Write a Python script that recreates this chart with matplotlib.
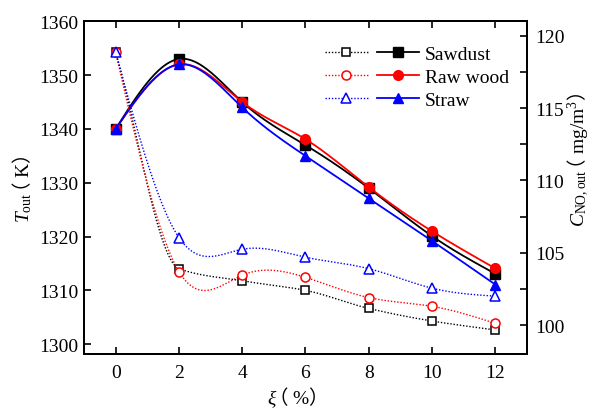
import numpy as np
import matplotlib
matplotlib.use("Agg")
import matplotlib.pyplot as plt
from matplotlib.legend_handler import HandlerTuple
from matplotlib.ticker import MultipleLocator

plt.rcParams["font.family"] = ["Liberation Serif", "Noto Sans CJK SC"]
# serif maths; \mathsf is borrowed for the full-width CJK brackets
plt.rcParams["mathtext.fontset"] = "custom"
plt.rcParams["mathtext.rm"] = "Liberation Serif"
plt.rcParams["mathtext.it"] = "Liberation Serif:italic"
plt.rcParams["mathtext.bf"] = "Liberation Serif:bold"
plt.rcParams["mathtext.sf"] = "Noto Sans CJK SC"

# ---------------------------------------------------------------------------
# data
# ---------------------------------------------------------------------------
xi = [0, 2, 4, 6, 8, 10, 12]
names = ["Sawdust", "Raw wood", "Straw"]

# outlet temperature (K), left axis, solid lines
t_sawdust = [1340, 1353, 1345, 1337, 1329, 1320.1, 1313.1]
t_rawwood = [1340, 1352, 1345, 1338.1, 1329.2, 1321.0, 1314.1]
t_straw = [1340, 1352, 1344, 1335.0, 1327.1, 1319.2, 1311.1]

# outlet NO concentration (mg/m3), right axis, dotted lines
c_sawdust = [118.86, 103.9, 103.06, 102.4, 101.15, 100.28, 99.66]
c_rawwood = [118.86, 103.7, 103.45, 103.3, 101.9, 101.3, 100.12]
c_straw = [118.86, 106.05, 105.24, 104.69, 103.9, 102.55, 102.0]

colors = ["black", "red", "blue"]
markers = ["s", "o", "^"]


def natural_spline(x, y, xs):
    x = np.asarray(x, float)
    y = np.asarray(y, float)
    n = len(x)
    h = np.diff(x)
    A = np.zeros((n, n))
    b = np.zeros(n)
    A[0, 0] = A[-1, -1] = 1
    for i in range(1, n - 1):
        A[i, i - 1] = h[i - 1]
        A[i, i] = 2 * (h[i - 1] + h[i])
        A[i, i + 1] = h[i]
        b[i] = 3 * ((y[i + 1] - y[i]) / h[i] - (y[i] - y[i - 1]) / h[i - 1])
    c = np.linalg.solve(A, b)
    idx = np.clip(np.searchsorted(x, xs) - 1, 0, n - 2)
    dx = xs - x[idx]
    hh = h[idx]
    bb = (y[idx + 1] - y[idx]) / hh - hh * (2 * c[idx] + c[idx + 1]) / 3
    dd = (c[idx + 1] - c[idx]) / (3 * hh)
    return y[idx] + bb * dx + c[idx] * dx ** 2 + dd * dx ** 3


def pchip(x, y, xs):
    x = np.asarray(x, float)
    y = np.asarray(y, float)
    h = np.diff(x)
    delta = np.diff(y) / h
    n = len(x)
    d = np.zeros(n)
    for i in range(1, n - 1):
        if delta[i - 1] * delta[i] > 0:
            w1 = 2 * h[i] + h[i - 1]
            w2 = h[i] + 2 * h[i - 1]
            d[i] = (w1 + w2) / (w1 / delta[i - 1] + w2 / delta[i])
    d[0] = delta[0]
    d[-1] = delta[-1]
    idx = np.clip(np.searchsorted(x, xs) - 1, 0, n - 2)
    t = (xs - x[idx]) / h[idx]
    h00 = 2 * t ** 3 - 3 * t ** 2 + 1
    h10 = t ** 3 - 2 * t ** 2 + t
    h01 = -2 * t ** 3 + 3 * t ** 2
    h11 = t ** 3 - t ** 2
    return (h00 * y[idx] + h10 * h[idx] * d[idx]
            + h01 * y[idx + 1] + h11 * h[idx] * d[idx + 1])


xs = np.linspace(xi[0], xi[-1], 400)

fig = plt.figure(figsize=(5.97, 4.10), dpi=100)
ax = fig.add_axes([0.1407, 0.1341, 0.742, 0.8115])
ax2 = ax.twinx()

solid_handles = []
dotted_handles = []
for t_vals, col, mk in zip([t_sawdust, t_rawwood, t_straw], colors, markers):
    ms = 6.5 if mk == "s" else 7
    ax.plot(xs, natural_spline(xi, t_vals, xs), color=col, lw=1.3)
    ax.plot(xi, t_vals, ls="None", marker=mk, ms=ms, mfc=col, mec=col)
    solid_handles.append(plt.Line2D([], [], color=col, lw=1.3, marker=mk,
                                    ms=ms, mfc=col, mec=col))

smoothers = [pchip, natural_spline, natural_spline]
for c_vals, col, mk, sm in zip([c_sawdust, c_rawwood, c_straw], colors, markers, smoothers):
    ms = 5.5 if mk == "s" else 6.5
    ax2.plot(xs, sm(xi, c_vals, xs), color=col, lw=1.0, ls=(0, (1, 1.3)))
    ax2.plot(xi, c_vals, ls="None", marker=mk, ms=ms,
             mfc="white", mec=col, mew=1.1)
    dotted_handles.append(plt.Line2D([], [], color=col, lw=1.0, ls=(0, (1, 1.3)),
                                     marker=mk, ms=ms, mfc="white", mec=col, mew=1.1))

ax.set_xlim(-1, 13)
ax.set_ylim(1298.2, 1360)
ax2.set_ylim(98, 121)
ax.set_xticks(xi)
ax.set_yticks(np.arange(1300, 1361, 10))
ax2.yaxis.set_major_locator(MultipleLocator(5))
ax2.yaxis.set_minor_locator(MultipleLocator(2.5))

for a in (ax, ax2):
    for s in a.spines.values():
        s.set_linewidth(1.4)
ax.tick_params(axis="x", direction="in", top=True, length=5, width=1.2,
               labelsize=14, pad=7)
ax.tick_params(axis="y", direction="in", length=5, width=1.2, labelsize=14, pad=4)
ax2.tick_params(axis="y", which="both", direction="in", length=5, width=1.2,
                labelsize=14, pad=6)

ax.set_xlabel(r"$\xi\!\!\!\mathsf{（}\ \mathrm{\%}\mathsf{）}$", fontsize=14)
ax.set_ylabel(r"$T_{\mathrm{out}}\!\!\!\mathsf{（}\ \mathrm{K}\mathsf{）}$",
              fontsize=14, labelpad=4)
ax2.set_ylabel(r"$C_{\mathrm{NO,out}}\!\!\!\mathsf{（}\ \mathrm{mg/m^3}\mathsf{）}$",
               fontsize=14)
ax.xaxis.set_label_coords(0.47, -0.09)
ax2.yaxis.set_label_coords(1.088, 0.586)

leg = ax2.legend(list(zip(dotted_handles, solid_handles)), names,
                 handler_map={tuple: HandlerTuple(ndivide=None, pad=0.46)},
                 loc="upper left", bbox_to_anchor=(0.544, 0.927),
                 frameon=False, fontsize=14, handlelength=4.85,
                 handletextpad=0.3, labelspacing=0.26, borderpad=0,
                 borderaxespad=0)

fig.savefig("out.png", dpi=100)
